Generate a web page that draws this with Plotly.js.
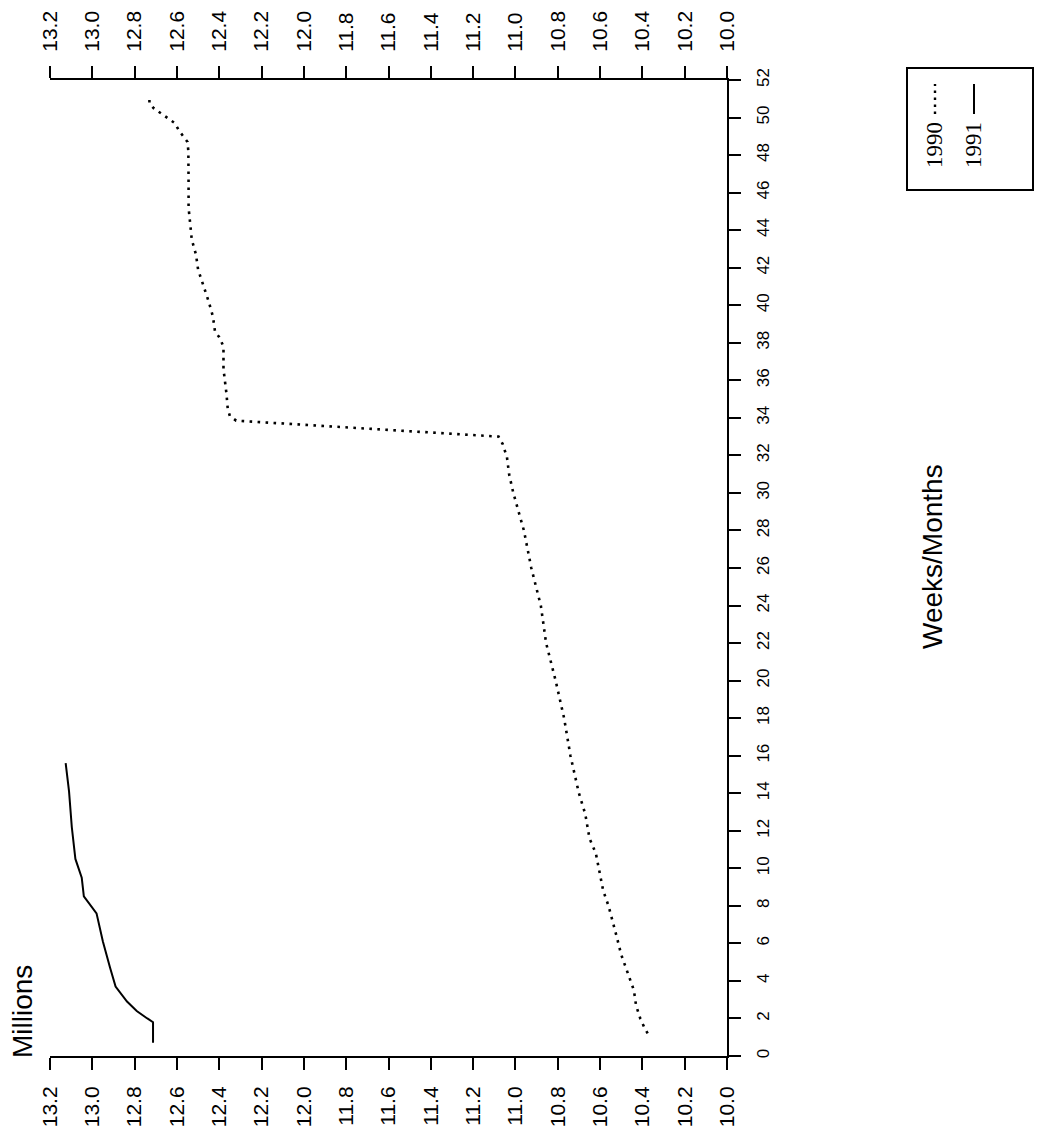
<!DOCTYPE html>
<html>
<head>
<meta charset="utf-8">
<script src="https://cdn.plot.ly/plotly-3.0.1.min.js"></script>
<style>html,body{margin:0;padding:0;background:#fff;}#chart{width:1037px;height:1136px;}</style>
</head>
<body>
<div id="chart"></div>
<script>
// ---- data (weeks on the vertical axis, millions on the horizontal axis; chart is rotated) ----
var weeks1990 = [1.2, 1.5, 2.0, 2.7, 3.5, 4.4, 5.4, 6.3, 7.2, 8.0, 8.8, 9.7, 10.8, 11.6, 12.9, 14, 16, 18, 20, 22, 24, 26, 28, 30, 31.0, 31.9, 32.6, 33.0, 33.85, 34.1, 34.5, 35.3, 36.6, 37.8, 38.3, 38.6, 39.4, 40.2, 41.0, 41.9, 42.7, 43.5, 44.3, 45.2, 46.5, 48.2, 48.7, 49.3, 49.7, 50.2, 50.5, 50.75, 51.2];
var values1990 = [10.375, 10.39, 10.41, 10.43, 10.44, 10.47, 10.50, 10.52, 10.54, 10.56, 10.585, 10.60, 10.62, 10.65, 10.67, 10.70, 10.74, 10.77, 10.81, 10.855, 10.88, 10.925, 10.96, 11.01, 11.03, 11.04, 11.06, 11.08, 12.32, 12.35, 12.36, 12.366, 12.38, 12.38, 12.40, 12.42, 12.43, 12.45, 12.475, 12.50, 12.51, 12.53, 12.537, 12.545, 12.545, 12.546, 12.55, 12.59, 12.61, 12.67, 12.71, 12.73, 12.73];
var weeks1991 = [0.7, 1.8, 2.0, 2.4, 2.9, 3.7, 4.7, 6.1, 7.6, 8.5, 9.5, 10.5, 12.2, 14.1, 15.6];
var values1991 = [12.713, 12.713, 12.74, 12.79, 12.836, 12.89, 12.916, 12.95, 12.98, 13.04, 13.05, 13.08, 13.097, 13.11, 13.126];
var millionTicks = [10.0, 10.2, 10.4, 10.6, 10.8, 11.0, 11.2, 11.4, 11.6, 11.8, 12.0, 12.2, 12.4, 12.6, 12.8, 13.0, 13.2];
var millionLabels = ["10.0", "10.2", "10.4", "10.6", "10.8", "11.0", "11.2", "11.4", "11.6", "11.8", "12.0", "12.2", "12.4", "12.6", "12.8", "13.0", "13.2"];
var weekTicks = [0, 2, 4, 6, 8, 10, 12, 14, 16, 18, 20, 22, 24, 26, 28, 30, 32, 34, 36, 38, 40, 42, 44, 46, 48, 50, 52];
var seriesNames = ["1990", "1991"];
var yAxisTitle = "Millions";
var xAxisTitle = "Weeks/Months";

// ---- layout geometry ----
var W = 1037, H = 1136;
var L = 50, R = 727, T = 80, B = 1056;
function px(x) { return (x - L) / (R - L); }
function py(y) { return (B - y) / (B - T); }

var sans = "Liberation Sans, Arial, Helvetica, sans-serif";
var serif = "Liberation Serif, Times New Roman, serif";

// 1990 is drawn against the top copy of the millions axis (same range), 1991 against the bottom one
var traces = [
  { x: values1990, y: weeks1990, xaxis: "x2", yaxis: "y", type: "scatter", mode: "lines", name: seriesNames[0],
    line: { color: "#000", width: 2.6, dash: "2.6px,5.4px" }, hoverinfo: "skip", showlegend: false },
  { x: values1991, y: weeks1991, xaxis: "x", yaxis: "y", type: "scatter", mode: "lines", name: seriesNames[1],
    line: { color: "#000", width: 2 }, hoverinfo: "skip", showlegend: false }
];

var axCommon = {
  range: [13.2, 10.0], autorange: false,
  tickmode: "array", tickvals: millionTicks, ticktext: millionLabels,
  ticks: "outside", ticklen: 12, tickwidth: 2, tickcolor: "#000",
  tickangle: -90, tickfont: { family: sans, size: 21, color: "#000" },
  showline: true, linecolor: "#000", linewidth: 2,
  showgrid: false, zeroline: false, fixedrange: true
};

var layout = {
  width: W, height: H,
  margin: { l: L, r: W - R, t: T, b: H - B, pad: 0 },
  paper_bgcolor: "#fff", plot_bgcolor: "#fff",
  showlegend: false,
  xaxis: Object.assign({}, axCommon, { side: "bottom", anchor: "y", ticklabelstandoff: 8 }),
  xaxis2: Object.assign({}, axCommon, { side: "top", overlaying: "x", anchor: "y", ticklabelstandoff: 10 }),
  yaxis: {
    range: [0, 52], autorange: false, side: "right",
    tickmode: "array", tickvals: weekTicks,
    ticks: "outside", ticklen: 12, tickwidth: 2, tickcolor: "#000",
    tickangle: -90, tickfont: { family: sans, size: 17, color: "#000" },
    ticklabelstandoff: 8,
    showline: true, linecolor: "#000", linewidth: 2,
    showgrid: false, zeroline: false, fixedrange: true
  },
  annotations: [
    { text: yAxisTitle, xref: "paper", yref: "paper", x: px(22), y: py(1012),
      xanchor: "center", yanchor: "middle", textangle: -90, showarrow: false,
      font: { family: sans, size: 28, color: "#000" } },
    { text: xAxisTitle, xref: "paper", yref: "paper", x: px(932), y: py(557),
      xanchor: "center", yanchor: "middle", textangle: -90, showarrow: false,
      font: { family: sans, size: 28, color: "#000" } },
    { text: seriesNames[0], xref: "paper", yref: "paper", x: px(935), y: py(145),
      xanchor: "center", yanchor: "middle", textangle: -90, showarrow: false,
      font: { family: serif, size: 23, color: "#000" } },
    { text: seriesNames[1], xref: "paper", yref: "paper", x: px(974), y: py(145),
      xanchor: "center", yanchor: "middle", textangle: -90, showarrow: false,
      font: { family: serif, size: 23, color: "#000" } }
  ],
  shapes: [
    { type: "rect", xref: "paper", yref: "paper", x0: px(907), x1: px(1033), y0: py(190), y1: py(68),
      line: { color: "#000", width: 2 }, fillcolor: "rgba(0,0,0,0)" },
    { type: "line", xref: "paper", yref: "paper", x0: px(935), x1: px(935), y0: py(114), y1: py(84),
      line: { color: "#000", width: 2.4, dash: "2.4px,4.6px" } },
    { type: "line", xref: "paper", yref: "paper", x0: px(974), x1: px(974), y0: py(114), y1: py(84),
      line: { color: "#000", width: 2 } }
  ]
};

Plotly.newPlot("chart", traces, layout, { displayModeBar: false, staticPlot: true });
</script>
</body>
</html>
